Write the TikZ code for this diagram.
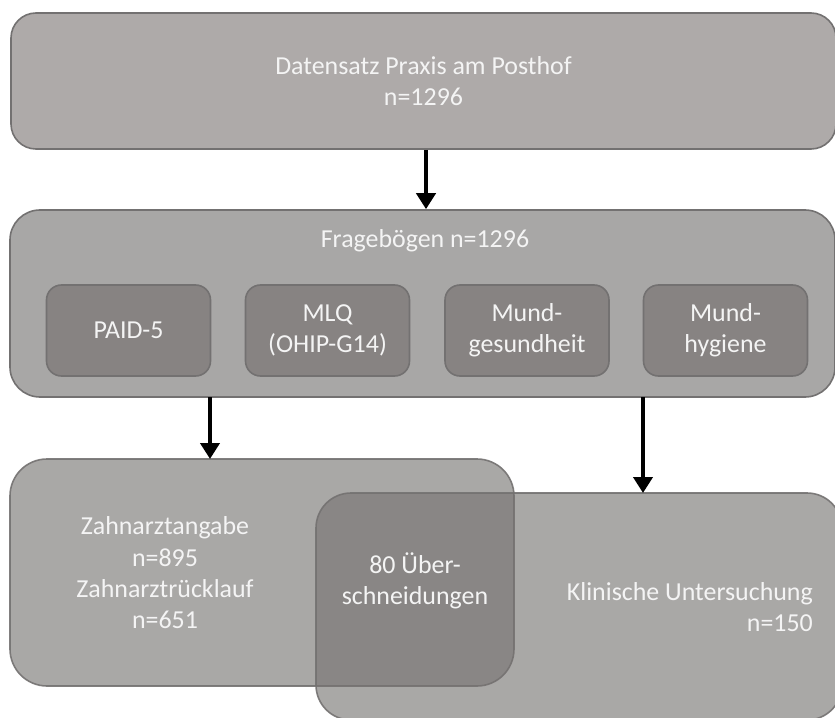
\documentclass[tikz,border=0pt]{standalone}
\usepackage{fontspec}
\setmainfont{Carlito}
\usetikzlibrary{arrows.meta,calc}
\definecolor{topfill}{HTML}{AEAAA9}
\definecolor{boxfill}{HTML}{A8A7A6}
\definecolor{innerfill}{HTML}{878382}
\definecolor{edgecol}{HTML}{737171}
\definecolor{txt}{HTML}{F4F4F4}
\definecolor{venn}{HTML}{757270}
\tikzset{
  panel/.style={draw=edgecol, line width=1.6bp, inner sep=0pt, text=txt,
    font=\fontsize{26}{31.5}\selectfont, align=center},
  label/.style={inner sep=0pt, text=txt, font=\fontsize{26}{31.5}\selectfont, align=center},
  inner/.style={panel, fill=innerfill, rounded corners=15bp, minimum width=164bp, minimum height=91bp},
  vennbox/.style={draw=edgecol, draw opacity=0.9, line width=1.6bp, fill=venn, fill opacity=0.62, text opacity=1},
  arr/.style={line width=4.5bp, -{Triangle[width=19bp,length=16bp]}, black}
}
\begin{document}
\begin{tikzpicture}[x=1bp,y=-1bp]
\useasboundingbox (0,0) rectangle (835,718);
\clip (0,0) rectangle (835,718);
% top box
\node[panel, fill=topfill, rounded corners=25bp, minimum width=825bp, minimum height=136bp] (top) at (423.5,81)
  {Datensatz Praxis am Posthof\\n=1296};
% questionnaires
\node[panel, fill=boxfill, rounded corners=30bp, minimum width=825bp, minimum height=187bp] (frage) at (422.5,303.5) {};
\node[label] (fragetitle) at (425,241) {Fragebögen n=1296};
\node[inner] (paid) at (128.5,330.5) {PAID-5};
\node[inner] (mlq) at (327.5,330.5) {MLQ\\(OHIP-G14)};
\node[inner] (mg) at (527,330.5) {Mund-\\gesundheit};
\node[inner] (mh) at (725.5,330.5) {Mund-\\hygiene};
% bottom venn boxes
\draw[vennbox, rounded corners=37bp] (10,459) rectangle (514,686);
\draw[vennbox, rounded corners=35bp] (316,493) rectangle (842,720);
\node[label] (zl) at (165,573) {Zahnarztangabe\\n=895\\Zahnarztrücklauf\\n=651};
\node[label] (ov) at (415,581) {80 Über-\\schneidungen};
\node[label, align=right, anchor=east] (kl) at (813,607) {Klinische Untersuchung\\n=150};
% arrows
\coordinate (a1) at (top.south -| 426,0);
\coordinate (a2) at (210,397);
\coordinate (a2e) at (210,459);
\coordinate (a3) at (643,397);
\coordinate (a3e) at (643,493);
\draw[arr] (a1) -- (a1 |- frage.north);
\draw[arr] (a2) -- (a2e);
\draw[arr] (a3) -- (a3e);
\end{tikzpicture}
\end{document}
